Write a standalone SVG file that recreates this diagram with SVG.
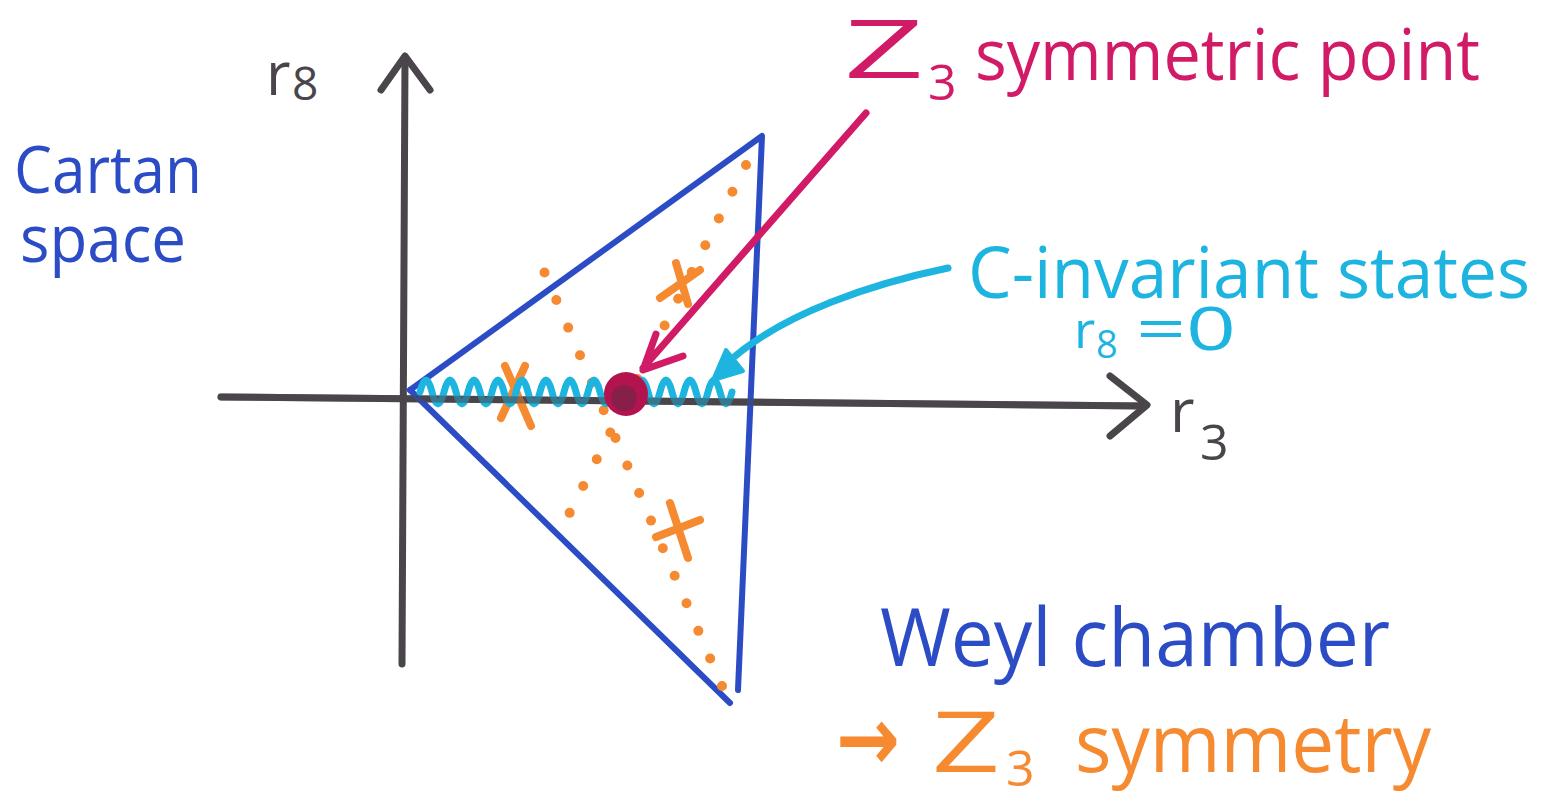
<svg xmlns="http://www.w3.org/2000/svg" width="1543" height="799" viewBox="0 0 1543 799">
<style>
.ax{fill:none;stroke:#4a454b;stroke-width:7;stroke-linecap:round;stroke-linejoin:round}
.bl{fill:none;stroke:#2c4cc6;stroke-width:6;stroke-linecap:round;stroke-linejoin:round}
.dot{fill:none;stroke:#f58a30;stroke-width:10;stroke-linecap:round;stroke-dasharray:0 30}
.ox{fill:none;stroke:#f58a30;stroke-width:8;stroke-linecap:round}
.t{font-family:"Open Sans","Liberation Sans",sans-serif}
</style>
<rect width="1543" height="799" fill="#ffffff"/>
<g id="axes">
<path class="ax" d="M405 58 L402 664"/>
<path class="ax" d="M381 90 L405 56 L430 90"/>
<path class="ax" d="M221 397 L1145 406"/>
<path class="ax" d="M1110 376 L1147 405 L1110 436"/>
<text class="t" x="266" y="95" font-size="60" fill="#4a454b">r</text>
<text class="t" x="292" y="100" font-size="46" fill="#4a454b">8</text>
<text class="t" x="1170" y="432" font-size="60" fill="#4a454b">r</text>
<text class="t" x="1200" y="460" font-size="50" fill="#4a454b">3</text>
</g>
<g id="weyl-chamber">
<path class="bl" d="M410 390 L762 136 L738 690"/>
<path class="bl" d="M410 390 L730 703"/>
</g>
<g id="z3-lines">
<path class="dot" d="M746 165 L566 520"/>
<path class="dot" d="M722 686 L540 262"/>
<path class="ox" d="M676 263 L688 304 M660 298 L700 270"/>
<path class="ox" d="M505 366 L531 426 M525 366 L501 418"/>
<path class="ox" d="M670 503 L688 558 M656 537 L700 520"/>
</g>
<g id="c-invariant-line">
<path fill="none" stroke="#1eb4e0" stroke-width="7" stroke-linecap="round" d="M420 392 q6 -24 12 0 t12 0 t12 0 t12 0 t12 0 t12 0 t12 0 t12 0 t12 0 t12 0 t12 0 t12 0 t12 0 t12 0 t12 0 t12 0 t12 0 t12 0 t12 0 t12 0 t12 0 t12 0 t12 0 t12 0 t12 0 t12 0"/>
<path class="ax" d="M221 397 L1145 406" opacity="0.55"/>
</g>
<g id="z3-point">
<circle cx="626" cy="394" r="22" fill="#b3144f"/>
<circle cx="624" cy="398" r="13" fill="#6b2747" opacity="0.6"/>
</g>
<g id="connectors">
<path fill="none" stroke="#d21b66" stroke-width="7" stroke-linecap="round" stroke-linejoin="round" d="M866 113 L643 368 M656 334 L643 370 L683 356"/>
<path fill="none" stroke="#1eb4e0" stroke-width="7" stroke-linecap="round" d="M948 268 C880 282 780 312 724 366"/>
<path fill="#1eb4e0" stroke="#1eb4e0" stroke-width="4" stroke-linejoin="round" d="M713 380 L726 350 L743 371 Z"/>
</g>
<g id="label-cartan">
<text class="t" x="14" y="193" font-size="66" fill="#2c4cc6" textLength="188" lengthAdjust="spacingAndGlyphs">Cartan</text>
<text class="t" x="20" y="262" font-size="66" fill="#2c4cc6" textLength="166" lengthAdjust="spacingAndGlyphs">space</text>
</g>
<g id="label-z3-point">
<text class="t" x="844" y="78" font-size="80" fill="#d21b66" textLength="80" lengthAdjust="spacingAndGlyphs">Z</text>
<text class="t" x="928" y="100" font-size="50" fill="#d21b66">3</text>
<text class="t" x="975" y="80" font-size="72" fill="#d21b66" textLength="505" lengthAdjust="spacingAndGlyphs">symmetric point</text>
</g>
<g id="label-c-invariant">
<text class="t" x="968" y="298" font-size="72" fill="#1eb4e0" textLength="562" lengthAdjust="spacingAndGlyphs">C-invariant states</text>
<text class="t" x="1074" y="348" font-size="52" fill="#1eb4e0">r</text>
<text class="t" x="1096" y="358" font-size="38" fill="#1eb4e0">8</text>
<text class="t" x="1136" y="350" font-size="60" fill="#1eb4e0" textLength="100" lengthAdjust="spacingAndGlyphs">=0</text>
</g>
<g id="label-weyl">
<text class="t" x="880" y="666" font-size="80" fill="#2c4cc6" textLength="510" lengthAdjust="spacingAndGlyphs">Weyl chamber</text>
<text x="836" y="770" font-family="DejaVu Sans, sans-serif" font-size="90" font-weight="bold" fill="#f58a30" textLength="64" lengthAdjust="spacingAndGlyphs">→</text>
<text class="t" x="932" y="772" font-size="84" fill="#f58a30" textLength="68" lengthAdjust="spacingAndGlyphs">Z</text>
<text class="t" x="1006" y="786" font-size="50" fill="#f58a30">3</text>
<text class="t" x="1075" y="772" font-size="80" fill="#f58a30" textLength="356" lengthAdjust="spacingAndGlyphs">symmetry</text>
</g>
</svg>
